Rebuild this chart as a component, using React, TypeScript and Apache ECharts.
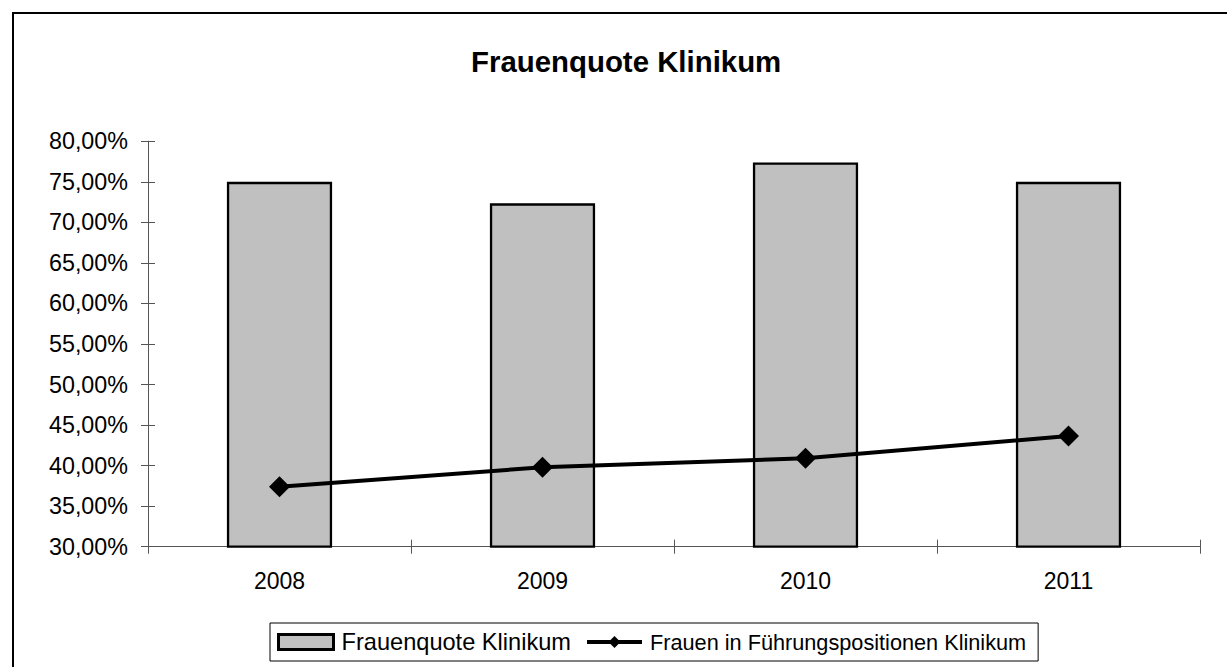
import React, { useEffect, useRef } from "react";
import * as echarts from "echarts";

const categories = ["2008", "2009", "2010", "2011"];
const frauenquote = [75.0, 72.35, 77.4, 75.0];
const fuehrung = [37.4, 39.8, 40.9, 43.65];
const seriesNames = ["Frauenquote Klinikum", "Frauen in Führungspositionen Klinikum"];
const titleText = "Frauenquote Klinikum";
const yMin = 30;
const yMax = 80;
const yStep = 5;

const FONT = "'Liberation Sans', Arial, sans-serif";

export default function App() {
  const ref = useRef<HTMLDivElement>(null);
  useEffect(() => {
    if (!ref.current) return;
    const chart = echarts.init(ref.current, undefined, { renderer: "svg" });
    const fmt = (v: number) => v.toFixed(2).replace(".", ",") + "%";
    const axisColor = "#555";
    const yBase = {
      type: "value",
      min: yMin,
      max: yMax,
      interval: yStep,
      position: "left",
      splitLine: { show: false },
      axisLine: { show: true, lineStyle: { color: axisColor, width: 1 } },
    };
    const xBase = {
      type: "category",
      data: categories,
      position: "bottom",
      boundaryGap: true,
      axisLine: { show: true, lineStyle: { color: axisColor, width: 1 } },
    };
    chart.setOption({
      animation: false,
      backgroundColor: "#fff",
      textStyle: { fontFamily: FONT },
      title: {
        text: titleText,
        left: 466,
        top: 42,
        textStyle: { fontFamily: FONT, fontSize: 29.4, fontWeight: "bold", color: "#000" },
      },
      grid: { left: 148, right: 27, top: 141.3, bottom: 120.3, containLabel: false },
      xAxis: [
        {
          ...xBase,
          axisTick: { show: true, inside: false, length: 7, lineStyle: { color: axisColor } },
          axisLabel: { show: true, margin: 23, color: "#000", fontSize: 23, fontFamily: FONT },
        },
        {
          ...xBase,
          axisTick: { show: true, inside: true, length: 7, lineStyle: { color: axisColor } },
          axisLabel: { show: false },
        },
      ],
      yAxis: [
        {
          ...yBase,
          axisTick: { show: true, inside: false, length: 7, lineStyle: { color: axisColor } },
          axisLabel: { show: true, margin: 20, color: "#000", fontSize: 23.3, fontFamily: FONT, formatter: fmt },
        },
        {
          ...yBase,
          axisTick: { show: true, inside: true, length: 7, lineStyle: { color: axisColor } },
          axisLabel: { show: false },
        },
      ],
      legend: {
        left: 270,
        top: 623,
        padding: [7, 12, 7, 7],
        itemGap: 14,
        itemWidth: 55,
        itemHeight: 15,
        borderColor: "#000",
        borderWidth: 1,
        data: [
          {
            name: seriesNames[0],
            icon: "rect",
            itemStyle: { color: "#C0C0C0", borderColor: "#000", borderWidth: 3 },
            textStyle: { fontSize: 23.6 },
          },
          {
            name: seriesNames[1],
            lineStyle: { width: 4, color: "#000" },
            textStyle: { fontSize: 21.7 },
          },
        ],
        textStyle: { fontFamily: FONT, fontSize: 23, color: "#000", padding: [0, 0, 0, 3] },
      },
      graphic: [
        {
          type: "rect",
          shape: { x: 13, y: 13, width: 1240, height: 680 },
          style: { fill: "none", stroke: "#000", lineWidth: 2 },
          silent: true,
        },
      ],
      series: [
        {
          name: seriesNames[0],
          type: "bar",
          data: frauenquote,
          barWidth: "40%",
          itemStyle: { color: "#C0C0C0", borderColor: "#000", borderWidth: 2.3 },
        },
        {
          name: seriesNames[1],
          type: "line",
          data: fuehrung,
          symbol: "diamond",
          symbolSize: 21,
          lineStyle: { color: "#000", width: 4 },
          itemStyle: { color: "#000" },
        },
      ],
    });
    return () => chart.dispose();
  }, []);
  return (
    <div
      ref={ref}
      style={{ position: "absolute", left: 0, top: 0, width: 1227, height: 667 }}
    />
  );
}
